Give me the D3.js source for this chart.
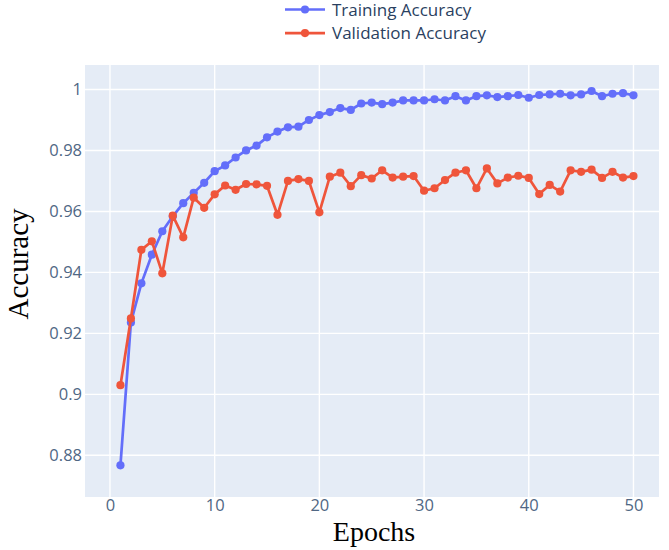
<!DOCTYPE html>
<html><head><meta charset="utf-8">
<script src="https://cdn.jsdelivr.net/npm/d3@7"></script>
<style>body{margin:0;background:#fff}svg{display:block}</style>
</head><body>
<svg id="c" width="669" height="550"></svg>
<script>
const epochs = d3.range(1, 51);
const trainAcc = [0.8767,0.9236,0.9364,0.9458,0.9535,0.9584,0.9627,0.9661,0.9694,0.9732,
  0.9751,0.9777,0.9800,0.9816,0.9843,0.9862,0.9876,0.9878,0.9900,0.9916,
  0.9926,0.9939,0.9933,0.9954,0.9957,0.9952,0.9957,0.9964,0.9964,0.9964,
  0.9968,0.9964,0.9978,0.9964,0.9978,0.9981,0.9975,0.9978,0.9982,0.9973,
  0.9982,0.9984,0.9986,0.9981,0.9984,0.9995,0.9978,0.9986,0.9988,0.9981];
const valAcc = [0.9030,0.9249,0.9474,0.9502,0.9397,0.9586,0.9515,0.9645,0.9612,0.9656,
  0.9685,0.9671,0.9690,0.9689,0.9684,0.9589,0.9700,0.9706,0.9700,0.9597,
  0.9714,0.9727,0.9683,0.9719,0.9708,0.9735,0.9711,0.9714,0.9716,0.9668,
  0.9676,0.9703,0.9727,0.9735,0.9676,0.9741,0.9692,0.9711,0.9717,0.9710,
  0.9657,0.9687,0.9665,0.9735,0.9730,0.9737,0.9710,0.9730,0.9711,0.9716];
const xTicks = [0,10,20,30,40,50];
const yTicks = [0.88,0.9,0.92,0.94,0.96,0.98,1];
const seriesNames = ["Training Accuracy","Validation Accuracy"];
const colors = ["#636efa","#ef553b"];

const L=85,R=659,T=65,B=497;
const x = d3.scaleLinear().domain([-2.385,52.44]).range([L,R]);
const y = d3.scaleLinear().domain([0.88,1]).range([455.3,89.5]);
const svg = d3.select("#c");
svg.append("rect").attr("x",L).attr("y",T).attr("width",R-L).attr("height",B-T).attr("fill","#e5ecf6");
const grid = svg.append("g").attr("stroke","#fff").attr("stroke-width",1.4);
xTicks.forEach(t=>grid.append("line").attr("x1",x(t)).attr("x2",x(t)).attr("y1",T).attr("y2",B));
yTicks.forEach(t=>grid.append("line").attr("y1",y(t)).attr("y2",y(t)).attr("x1",L).attr("x2",R));

const font = "'Open Sans', sans-serif";
const xAxis = svg.append("g").attr("transform",`translate(0,${B})`)
  .call(d3.axisBottom(x).tickValues(xTicks).tickSize(0).tickPadding(2).tickFormat(d3.format("d")));
const yAxis = svg.append("g").attr("transform",`translate(${L},0)`)
  .call(d3.axisLeft(y).tickValues(yTicks).tickSize(0).tickPadding(3).tickFormat(d=>String(+d.toFixed(2))));
[xAxis,yAxis].forEach(a=>{a.select(".domain").remove();
  a.selectAll("text").attr("fill","#506784").style("font-family",font).style("font-size","16.5px");});

const data = [trainAcc,valAcc];
data.forEach((vals,i)=>{
  const pts = epochs.map((e,j)=>[e,vals[j]]);
  svg.append("path").datum(pts).attr("fill","none").attr("stroke",colors[i]).attr("stroke-width",2.7)
    .attr("stroke-linejoin","round").attr("d",d3.line().x(d=>x(d[0])).y(d=>y(d[1])));
  svg.append("g").selectAll("circle").data(pts).join("circle")
    .attr("cx",d=>x(d[0])).attr("cy",d=>y(d[1])).attr("r",4.1).attr("fill",colors[i]);
});
// legend
seriesNames.forEach((n,i)=>{
  const ly = 9.5 + i*23.6;
  svg.append("line").attr("x1",285).attr("x2",325).attr("y1",ly).attr("y2",ly).attr("stroke",colors[i]).attr("stroke-width",2.7);
  svg.append("circle").attr("cx",305).attr("cy",ly).attr("r",4.1).attr("fill",colors[i]);
  svg.append("text").attr("x",332).attr("y",ly+6.2).text(n)
    .attr("fill","#2a3f5f").style("font-family",font).style("font-size","17px");
});
svg.append("text").attr("x",374).attr("y",541).attr("text-anchor","middle").text("Epochs")
  .style("font-family","'Liberation Serif', 'Times New Roman', serif").style("font-size","28px").attr("fill","#000");
svg.append("text").attr("transform","translate(28,264) rotate(-90)").attr("text-anchor","middle").text("Accuracy")
  .style("font-family","'Liberation Serif', 'Times New Roman', serif").style("font-size","29px").attr("fill","#000");
</script>
</body></html>
